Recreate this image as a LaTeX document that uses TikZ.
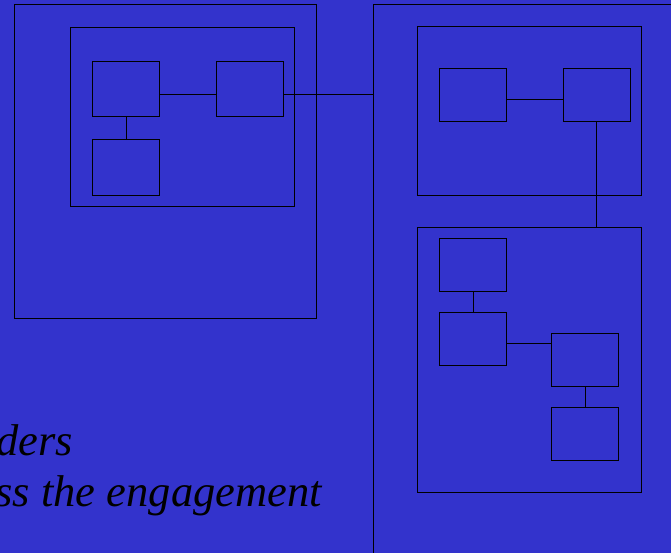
\documentclass[tikz,border=0pt]{standalone}
\usepackage{fontspec}
\setmainfont{Liberation Serif}
\definecolor{slideblue}{RGB}{51,51,204}
\tikzset{
  box/.style={draw=black, line width=1pt, inner sep=0pt, anchor=north west},
  small/.style={box, minimum width=67pt, minimum height=53pt},
  link/.style={draw=black, line width=1pt},
  caption/.style={font=\fontsize{44.5}{50}\selectfont\itshape, text=black, inner sep=0pt, anchor=base east}
}
\begin{document}
\begin{tikzpicture}[x=1pt, y=-1pt]
  \fill[slideblue] (0,0) rectangle (671,553);
  \useasboundingbox (0,0) rectangle (671,553);
  \clip (0,0) rectangle (671,553);

  % left group
  \node[box, minimum width=302.5pt, minimum height=313.5pt] (L) at (13.5,4.5) {};
  \node[box, minimum width=224pt, minimum height=179pt] (Li) at (69.5,27.5) {};
  \node[small, minimum height=55pt] (A) at (92,61) {};
  \node[small, minimum height=55pt] (B) at (215.5,61) {};
  \node[small, minimum height=56pt] (C) at (92,139) {};

  % right group, running past the edges
  \node[box, minimum width=330pt, minimum height=600pt] (R) at (372.5,4.5) {};
  \node[box, minimum width=224pt, minimum height=169pt] (Rt) at (417,26) {};
  \node[small] (D) at (439.3,68) {};
  \node[small] (E) at (562.5,68) {};
  \node[box, minimum width=224pt, minimum height=264.5pt] (Rb) at (417,227) {};
  \node[small] (F) at (439.3,237.7) {};
  \node[small] (G) at (439.3,311.7) {};
  \node[small] (H) at (551.3,333) {};
  \node[small] (I) at (551.3,407) {};

  % connectors
  \draw[link] ([yshift=-6pt]A.east) -- ([yshift=-6pt]B.west);
  \draw[link] (A.south) -- (C.north);
  \draw[link] ([yshift=-6pt]B.east) -- ([yshift=-6pt]B.east -| R.west);
  \draw[link] ([yshift=-5pt]D.east) -- ([yshift=-5pt]D.east -| E.west);
  \draw[link] (E.south) -- (E.south |- Rb.north);
  \draw[link] (F.south) -- (G.north);
  \draw[link] ([yshift=-5pt]G.east) -- ([yshift=-5pt]G.east -| H.west);
  \draw[link] (H.south) -- (I.north);

  % caption lines
  \node[caption] (t1) at (73,455) {ders};
  \node[caption] (t2) at (322,506) {ss the engagement};
\end{tikzpicture}
\end{document}
